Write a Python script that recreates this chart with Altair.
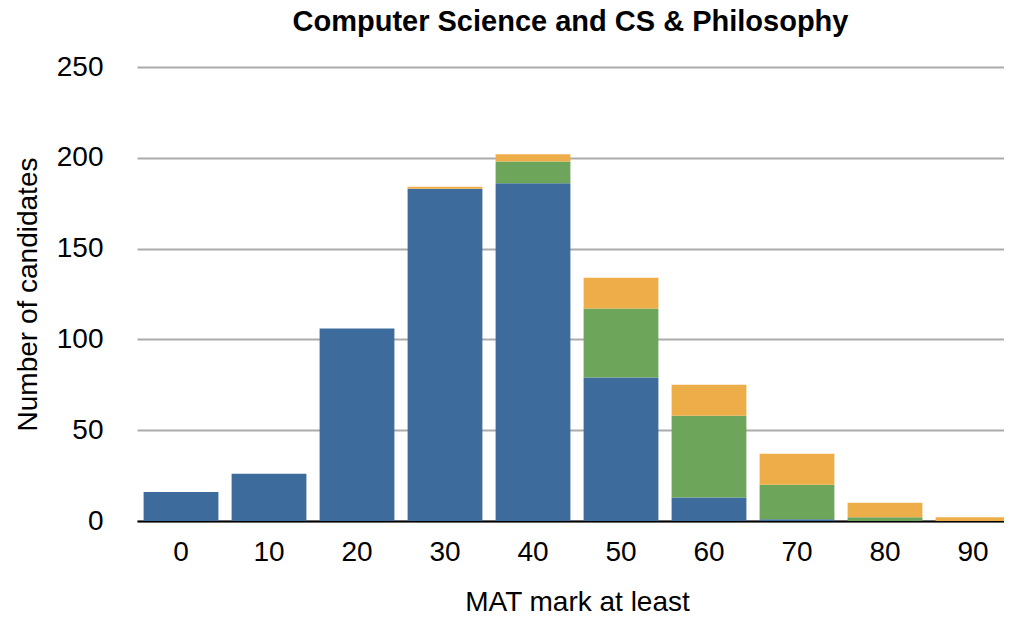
import altair as alt
import pandas as pd

marks = ["0", "10", "20", "30", "40", "50", "60", "70", "80", "90"]
series_names = ["Series A", "Series B", "Series C"]
series_colors = ["#3d6c9c", "#6da55a", "#edae4a"]
blue = [16, 26, 106, 183, 186, 79, 13, 1, 0, 0]
green = [0, 0, 0, 0, 12, 38, 45, 19, 2, 0]
orange = [0, 0, 0, 1, 4, 17, 17, 17, 8, 2]

rows = []
for i, m in enumerate(marks):
    for k, vals in enumerate([blue, green, orange]):
        rows.append({"mark": m, "series": series_names[k], "order": k, "count": vals[i]})
df = pd.DataFrame(rows)

FONT = "Liberation Sans"

chart = alt.Chart(df).mark_bar().encode(
    x=alt.X("mark:N", sort=marks,
            scale=alt.Scale(paddingInner=0.15, paddingOuter=0.075, range=[0, 880]),
            axis=alt.Axis(title="MAT mark at least", labelAngle=0, labelFontSize=28,
                          labelFont=FONT, labelColor="black", labelBaseline="middle",
                          labelPadding=31, ticks=False, domainColor="black", domainWidth=2,
                          titleFontSize=28, titleFont=FONT, titleFontWeight="normal",
                          titleColor="black", titleX=440, titleY=89,
                          titleBaseline="alphabetic")),
    y=alt.Y("count:Q", stack="zero",
            scale=alt.Scale(domain=[0, 250], nice=False),
            axis=alt.Axis(title="Number of candidates", values=[0, 50, 100, 150, 200, 250],
                          labelFontSize=28, labelFont=FONT, labelColor="black",
                          labelPadding=34, ticks=False, domain=False,
                          gridColor="#ababab", gridWidth=2,
                          titleFontSize=28, titleFont=FONT, titleFontWeight="normal",
                          titleColor="black", titleX=-109, titleY=227, titleAngle=270,
                          titleAlign="center", titleBaseline="middle")),
    color=alt.Color("series:N", scale=alt.Scale(domain=series_names, range=series_colors),
                    legend=None),
    order=alt.Order("order:Q", sort="ascending"),
).properties(
    width=867, height=454,
    title=alt.TitleParams("Computer Science and CS & Philosophy", fontSize=29, font=FONT,
                          fontWeight="bold", color="black", anchor="middle", offset=16),
    autosize=alt.AutoSizeParams(type="none"),
    padding={"left": 129, "top": 59, "right": 0, "bottom": 90},
).configure_view(stroke=None)

chart.save("out.html", embed_options={"renderer": "svg", "actions": False})
